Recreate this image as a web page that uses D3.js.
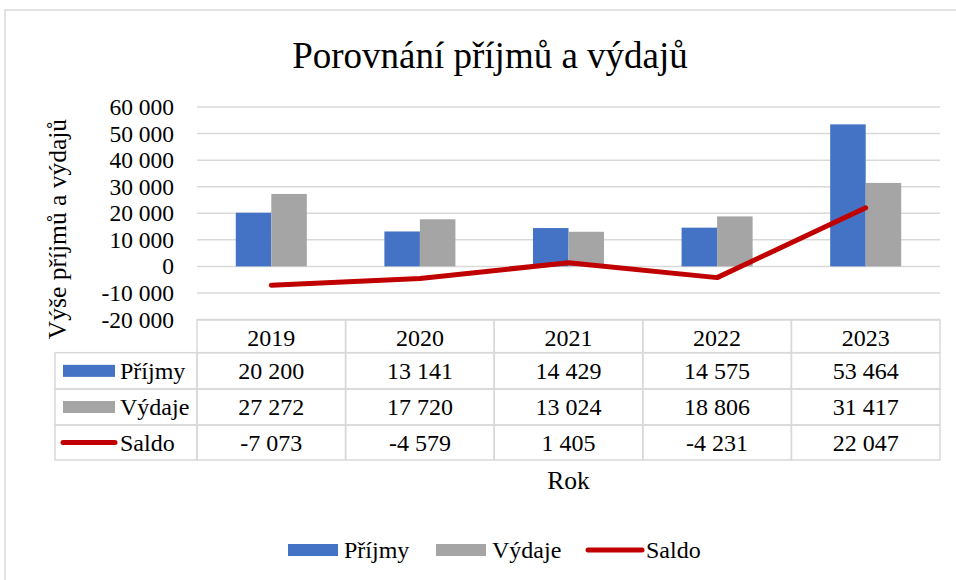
<!DOCTYPE html>
<meta charset="utf-8">
<style>
  body { margin: 0; background: #fff; }
  svg text { font-family: "Liberation Serif", "Times New Roman", Times, serif !important; fill: #000; }
  .grid line { stroke: #d9d9d9; stroke-width: 1.5px; }
  .cell { stroke: #d9d9d9; stroke-width: 1.5px; fill: none; }
</style>
<body>
<script src="https://cdnjs.cloudflare.com/ajax/libs/d3/7.8.5/d3.min.js"></script>
<script>

// data
var years = ["2019", "2020", "2021", "2022", "2023"];
var prijmy = [20200, 13141, 14429, 14575, 53464];
var vydaje = [27272, 17720, 13024, 18806, 31417];
var saldo = [-7073, -4579, 1405, -4231, 22047];
var yTicks = [-20000, -10000, 0, 10000, 20000, 30000, 40000, 50000, 60000];

var series = [
  {name: "Příjmy", values: prijmy, color: "#4472c4", type: "bar"},
  {name: "Výdaje", values: vydaje, color: "#a5a5a5", type: "bar"},
  {name: "Saldo", values: saldo, color: "#c00000", type: "line"}
];

var W = 956, H = 580;
var plotL = 197, plotR = 940, plotT = 107, plotB = 319.5;

// czech number format (space as thousands separator)
var cz = d3.formatLocale({decimal: ",", thousands: " ", grouping: [3], currency: ["", ""], minus: "-"});
var fmt = cz.format(",d");

var svg = d3.select("body").append("svg")
    .attr("width", W)
    .attr("height", H)
    .style("font-family", "'Liberation Serif', 'Times New Roman', serif");

// outer frame
svg.append("rect")
    .attr("x", 5).attr("y", 10)
    .attr("width", 960).attr("height", 600)
    .attr("fill", "#fff")
    .attr("stroke", "#d9d9d9")
    .attr("stroke-width", 1.5);

// title
svg.append("text")
    .attr("x", 490).attr("y", 68)
    .attr("text-anchor", "middle")
    .style("font-size", "37px")
    .text("Porovnání příjmů a výdajů");

var x = d3.scaleBand().domain(years).range([plotL, plotR]);
var y = d3.scaleLinear().domain([-20000, 60000]).range([plotB, plotT]);

// gridlines
svg.append("g").attr("class", "grid")
  .selectAll("line").data(yTicks).enter().append("line")
    .attr("x1", plotL).attr("x2", plotR)
    .attr("y1", function(d) { return y(d); })
    .attr("y2", function(d) { return y(d); });

// y axis labels
var yAxis = d3.axisLeft(y).tickValues(yTicks).tickFormat(fmt).tickSize(0).tickPadding(23);
var ya = svg.append("g")
    .attr("transform", "translate(" + plotL + ",0)")
    .call(yAxis)
    .attr("font-family", null)
    .attr("font-size", null);
ya.select(".domain").remove();
ya.selectAll("text")
    .style("font-size", "23.5px")
    .attr("fill", "#000");

// y axis title
svg.append("text")
    .attr("transform", "translate(66,229) rotate(-90)")
    .attr("text-anchor", "middle")
    .style("font-size", "25.5px")
    .text("Výše příjmů a výdajů");

// bars
var barW = x.bandwidth() * 0.239;
var bars = series.filter(function(s) { return s.type === "bar"; });
bars.forEach(function(s, i) {
  svg.append("g").selectAll("rect").data(s.values).enter().append("rect")
      .attr("x", function(d, j) { return x(years[j]) + x.bandwidth() / 2 + (i - 1) * barW; })
      .attr("width", barW)
      .attr("y", function(d) { return y(Math.max(d, 0)); })
      .attr("height", function(d) { return Math.abs(y(d) - y(0)); })
      .attr("fill", s.color);
});

// saldo line
var line = d3.line()
    .x(function(d, j) { return x(years[j]) + x.bandwidth() / 2; })
    .y(function(d) { return y(d); });
svg.append("path")
    .datum(saldo)
    .attr("d", line)
    .attr("fill", "none")
    .attr("stroke", "#c00000")
    .attr("stroke-width", 5)
    .attr("stroke-linecap", "round")
    .attr("stroke-linejoin", "round");

// data table
var tLeft = 55;
var rowTops = [352.7, 389, 425];
var hdrTop = 320;

var tbl = svg.append("g");
// header row (years)
tbl.selectAll(".hdr").data(years).enter().append("rect")
    .attr("class", "cell")
    .attr("x", function(d) { return x(d); })
    .attr("y", hdrTop)
    .attr("width", x.bandwidth())
    .attr("height", rowTops[0] - hdrTop);
tbl.selectAll(".hdrtxt").data(years).enter().append("text")
    .attr("x", function(d) { return x(d) + x.bandwidth() / 2; })
    .attr("y", 346)
    .attr("text-anchor", "middle")
    .style("font-size", "24px")
    .text(function(d) { return d; });

series.forEach(function(s, r) {
  var ty = rowTops[r];
  var h = (r === 2 ? 460 - ty : rowTops[r + 1] - ty);
  tbl.append("rect").attr("class", "cell")
      .attr("x", tLeft).attr("y", ty)
      .attr("width", plotL - tLeft).attr("height", h);
  var cy = ty + h / 2;
  if (s.type === "bar") {
    tbl.append("rect")
        .attr("x", 63).attr("y", cy - 6)
        .attr("width", 52).attr("height", 12)
        .attr("fill", s.color);
  } else {
    tbl.append("line")
        .attr("x1", 63).attr("x2", 115)
        .attr("y1", cy).attr("y2", cy)
        .attr("stroke", s.color).attr("stroke-width", 5)
        .attr("stroke-linecap", "round");
  }
  tbl.append("text")
      .attr("x", 120).attr("y", cy + 8)
      .style("font-size", "24px")
      .text(s.name);
  s.values.forEach(function(v, j) {
    tbl.append("rect").attr("class", "cell")
        .attr("x", x(years[j])).attr("y", ty)
        .attr("width", x.bandwidth()).attr("height", h);
    tbl.append("text")
        .attr("x", x(years[j]) + x.bandwidth() / 2)
        .attr("y", cy + 8)
        .attr("text-anchor", "middle")
        .style("font-size", "24px")
        .text(fmt(v));
  });
});

// x axis title
svg.append("text")
    .attr("x", (plotL + plotR) / 2).attr("y", 489)
    .attr("text-anchor", "middle")
    .style("font-size", "25.5px")
    .text("Rok");

// legend
var legX = [288, 436, 588];
var lg = svg.append("g");
series.forEach(function(s, i) {
  if (s.type === "bar") {
    lg.append("rect")
        .attr("x", legX[i]).attr("y", 544)
        .attr("width", 50).attr("height", 12)
        .attr("fill", s.color);
  } else {
    lg.append("line")
        .attr("x1", legX[i]).attr("x2", legX[i] + 54)
        .attr("y1", 550).attr("y2", 550)
        .attr("stroke", s.color).attr("stroke-width", 5)
        .attr("stroke-linecap", "round");
  }
  lg.append("text")
      .attr("x", legX[i] + (s.type === "bar" ? 56 : 58))
      .attr("y", 558)
      .style("font-size", "24px")
      .text(s.name);
});

</script>
</body>
